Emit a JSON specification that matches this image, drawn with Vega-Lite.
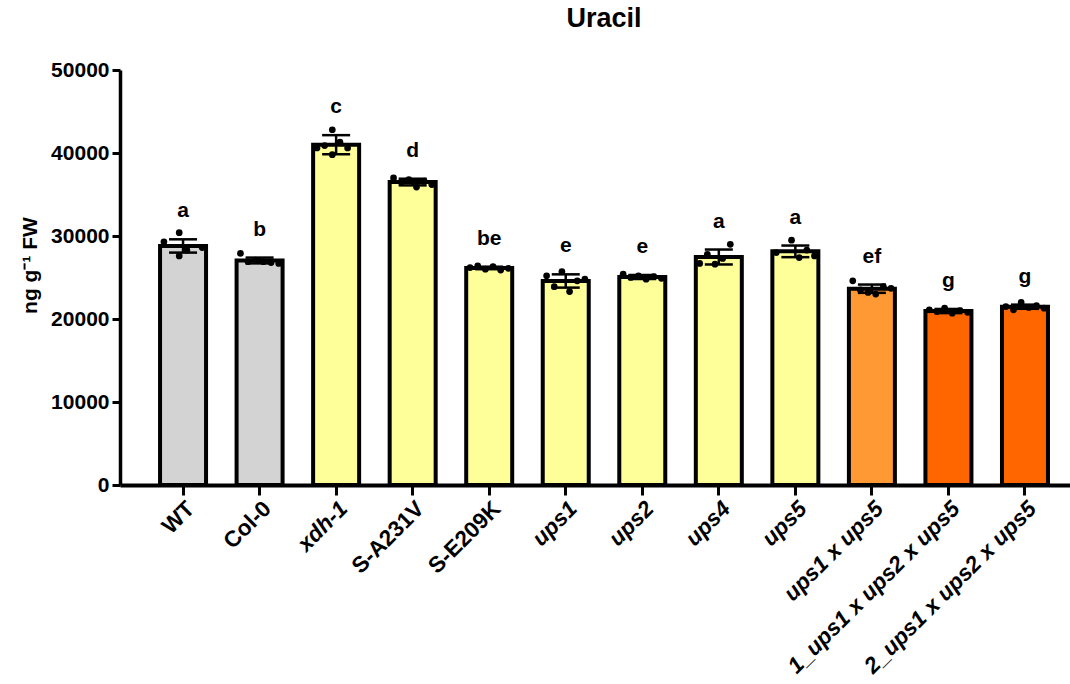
{
  "$schema": "https://vega.github.io/schema/vega-lite/v6.json",
  "width": 950,
  "height": 415,
  "autosize": {"type": "none"},
  "padding": {"left": 120, "top": 70, "right": 0, "bottom": 199},
  "background": "white",
  "title": {
    "text": "Uracil",
    "font": "Liberation Sans",
    "fontSize": 27,
    "fontWeight": "bold",
    "color": "black",
    "anchor": "middle",
    "offset": 26,
    "dx": 9
  },
  "config": {
    "view": {"stroke": null},
    "font": "Liberation Sans"
  },
  "datasets": {
    "bars": [
      {"genotype": "WT", "group": "control", "mean": 28800, "lo": 28000, "hi": 29600, "letter": "a"},
      {"genotype": "Col-0", "group": "control", "mean": 27050, "lo": 26700, "hi": 27400, "letter": "b"},
      {"genotype": "xdh-1", "group": "single", "mean": 41000, "lo": 39850, "hi": 42150, "letter": "c"},
      {"genotype": "S-A231V", "group": "single", "mean": 36500, "lo": 36100, "hi": 36900, "letter": "d"},
      {"genotype": "S-E209K", "group": "single", "mean": 26150, "lo": 26000, "hi": 26300, "letter": "be"},
      {"genotype": "ups1", "group": "single", "mean": 24580, "lo": 23780, "hi": 25380, "letter": "e"},
      {"genotype": "ups2", "group": "single", "mean": 25060, "lo": 24810, "hi": 25310, "letter": "e"},
      {"genotype": "ups4", "group": "single", "mean": 27470, "lo": 26570, "hi": 28370, "letter": "a"},
      {"genotype": "ups5", "group": "single", "mean": 28150, "lo": 27450, "hi": 28850, "letter": "a"},
      {"genotype": "ups1 x ups5", "group": "double", "mean": 23650, "lo": 23150, "hi": 24150, "letter": "ef"},
      {"genotype": "1_ups1 x ups2 x ups5", "group": "triple", "mean": 20960, "lo": 20710, "hi": 21210, "letter": "g"},
      {"genotype": "2_ups1 x ups2 x ups5", "group": "triple", "mean": 21480, "lo": 21230, "hi": 21730, "letter": "g"}
    ],
    "points": [
      {"genotype": "WT", "rep": "3", "value": 30400},
      {"genotype": "WT", "rep": "1", "value": 29300},
      {"genotype": "WT", "rep": "6", "value": 28600},
      {"genotype": "WT", "rep": "4", "value": 28300},
      {"genotype": "WT", "rep": "3", "value": 27600},
      {"genotype": "Col-0", "rep": "1", "value": 27900},
      {"genotype": "Col-0", "rep": "3", "value": 27100},
      {"genotype": "Col-0", "rep": "2", "value": 26900},
      {"genotype": "Col-0", "rep": "5", "value": 26800},
      {"genotype": "Col-0", "rep": "6", "value": 26700},
      {"genotype": "Col-0", "rep": "4", "value": 26900},
      {"genotype": "xdh-1", "rep": "3", "value": 42800},
      {"genotype": "xdh-1", "rep": "4", "value": 41300},
      {"genotype": "xdh-1", "rep": "2", "value": 40900},
      {"genotype": "xdh-1", "rep": "5", "value": 40600},
      {"genotype": "xdh-1", "rep": "3", "value": 39800},
      {"genotype": "xdh-1", "rep": "1", "value": 40600},
      {"genotype": "S-A231V", "rep": "1", "value": 37000},
      {"genotype": "S-A231V", "rep": "3", "value": 36800},
      {"genotype": "S-A231V", "rep": "5", "value": 36600},
      {"genotype": "S-A231V", "rep": "2", "value": 36500},
      {"genotype": "S-A231V", "rep": "6", "value": 36200},
      {"genotype": "S-A231V", "rep": "4", "value": 35900},
      {"genotype": "S-E209K", "rep": "2", "value": 26400},
      {"genotype": "S-E209K", "rep": "4", "value": 26300},
      {"genotype": "S-E209K", "rep": "1", "value": 26200},
      {"genotype": "S-E209K", "rep": "6", "value": 26100},
      {"genotype": "S-E209K", "rep": "3", "value": 26000},
      {"genotype": "S-E209K", "rep": "5", "value": 25900},
      {"genotype": "ups1", "rep": "3", "value": 25700},
      {"genotype": "ups1", "rep": "1", "value": 25200},
      {"genotype": "ups1", "rep": "6", "value": 24800},
      {"genotype": "ups1", "rep": "5", "value": 24600},
      {"genotype": "ups1", "rep": "4", "value": 23300},
      {"genotype": "ups1", "rep": "2", "value": 23900},
      {"genotype": "ups2", "rep": "1", "value": 25400},
      {"genotype": "ups2", "rep": "3", "value": 25200},
      {"genotype": "ups2", "rep": "5", "value": 25100},
      {"genotype": "ups2", "rep": "2", "value": 25000},
      {"genotype": "ups2", "rep": "6", "value": 24900},
      {"genotype": "ups2", "rep": "4", "value": 24800},
      {"genotype": "ups4", "rep": "5", "value": 29000},
      {"genotype": "ups4", "rep": "2", "value": 27800},
      {"genotype": "ups4", "rep": "4", "value": 27300},
      {"genotype": "ups4", "rep": "1", "value": 26700},
      {"genotype": "ups4", "rep": "3", "value": 26600},
      {"genotype": "ups5", "rep": "3", "value": 29500},
      {"genotype": "ups5", "rep": "5", "value": 28300},
      {"genotype": "ups5", "rep": "1", "value": 28000},
      {"genotype": "ups5", "rep": "6", "value": 27600},
      {"genotype": "ups5", "rep": "4", "value": 27400},
      {"genotype": "ups1 x ups5", "rep": "1", "value": 24600},
      {"genotype": "ups1 x ups5", "rep": "5", "value": 23900},
      {"genotype": "ups1 x ups5", "rep": "6", "value": 23700},
      {"genotype": "ups1 x ups5", "rep": "2", "value": 23500},
      {"genotype": "ups1 x ups5", "rep": "4", "value": 23000},
      {"genotype": "ups1 x ups5", "rep": "3", "value": 23200},
      {"genotype": "1_ups1 x ups2 x ups5", "rep": "3", "value": 21300},
      {"genotype": "1_ups1 x ups2 x ups5", "rep": "1", "value": 21100},
      {"genotype": "1_ups1 x ups2 x ups5", "rep": "5", "value": 21000},
      {"genotype": "1_ups1 x ups2 x ups5", "rep": "2", "value": 20900},
      {"genotype": "1_ups1 x ups2 x ups5", "rep": "6", "value": 20800},
      {"genotype": "1_ups1 x ups2 x ups5", "rep": "4", "value": 20700},
      {"genotype": "2_ups1 x ups2 x ups5", "rep": "3", "value": 22000},
      {"genotype": "2_ups1 x ups2 x ups5", "rep": "5", "value": 21600},
      {"genotype": "2_ups1 x ups2 x ups5", "rep": "1", "value": 21500},
      {"genotype": "2_ups1 x ups2 x ups5", "rep": "4", "value": 21400},
      {"genotype": "2_ups1 x ups2 x ups5", "rep": "6", "value": 21300},
      {"genotype": "2_ups1 x ups2 x ups5", "rep": "2", "value": 21100}
    ]
  },
  "encoding": {
    "x": {
      "field": "genotype",
      "type": "nominal",
      "scale": {
        "domain": ["WT", "Col-0", "xdh-1", "S-A231V", "S-E209K", "ups1", "ups2", "ups4", "ups5", "ups1 x ups5", "1_ups1 x ups2 x ups5", "2_ups1 x ups2 x ups5"],
        "paddingInner": 0.4,
        "paddingOuter": 0.406,
        "align": 0.645
      },
      "axis": {
        "title": null,
        "labelAngle": -45,
        "labelFont": "Liberation Sans",
        "labelFontSize": 22.5,
        "labelFontWeight": "bold",
        "labelColor": "black",
        "labelLimit": 400,
        "labelPadding": 2,
        "labelFontStyle": {
          "condition": {"test": "indexof(['WT', 'Col-0', 'S-A231V', 'S-E209K'], datum.value) >= 0", "value": "normal"},
          "value": "italic"
        },
        "domainColor": "black",
        "domainWidth": 4,
        "tickColor": "black",
        "tickWidth": 3,
        "tickSize": 10
      }
    }
  },
  "layer": [
    {
      "data": {"name": "bars"},
      "mark": {"type": "bar", "stroke": "black", "strokeWidth": 4, "width": 46},
      "encoding": {
        "y": {
          "field": "mean",
          "type": "quantitative",
          "scale": {"domain": [0, 50000], "nice": false},
          "axis": {
            "title": "ng g⁻¹ FW",
            "titleFont": "Liberation Sans",
            "titleFontSize": 21,
            "titleFontWeight": "bold",
            "titleColor": "black",
            "titlePadding": 10,
            "titleY": 195,
            "values": [0, 10000, 20000, 30000, 40000, 50000],
            "format": "d",
            "grid": false,
            "labelFont": "Liberation Sans",
            "labelFontSize": 21,
            "labelFontWeight": "bold",
            "labelColor": "black",
            "labelPadding": 3,
            "domainColor": "black",
            "domainWidth": 3.5,
            "tickColor": "black",
            "tickWidth": 3,
            "tickSize": 8
          }
        },
        "fill": {
          "field": "group",
          "type": "nominal",
          "scale": {
            "domain": ["control", "single", "double", "triple"],
            "range": ["#d3d3d3", "#ffff99", "#ff9933", "#ff6600"]
          },
          "legend": null
        }
      }
    },
    {
      "data": {"name": "bars"},
      "mark": {"type": "rule", "color": "black", "strokeWidth": 2.5},
      "encoding": {
        "y": {"field": "lo", "type": "quantitative"},
        "y2": {"field": "hi"}
      }
    },
    {
      "data": {"name": "bars"},
      "mark": {"type": "tick", "color": "black", "opacity": 1, "thickness": 2.5, "size": 28},
      "encoding": {"y": {"field": "lo", "type": "quantitative"}}
    },
    {
      "data": {"name": "bars"},
      "mark": {"type": "tick", "color": "black", "opacity": 1, "thickness": 2.5, "size": 28},
      "encoding": {"y": {"field": "hi", "type": "quantitative"}}
    },
    {
      "data": {"name": "points"},
      "mark": {"type": "point", "filled": true, "color": "black", "opacity": 1, "size": 45},
      "encoding": {
        "y": {"field": "value", "type": "quantitative"},
        "xOffset": {
          "field": "rep",
          "type": "nominal",
          "scale": {"domain": ["1", "2", "3", "4", "5", "6"]}
        }
      }
    },
    {
      "data": {"name": "bars"},
      "mark": {
        "type": "text",
        "font": "Liberation Sans",
        "fontSize": 21,
        "fontWeight": "bold",
        "color": "black",
        "baseline": "alphabetic",
        "dy": -22
      },
      "encoding": {
        "y": {"field": "hi", "type": "quantitative"},
        "text": {"field": "letter"}
      }
    }
  ]
}
